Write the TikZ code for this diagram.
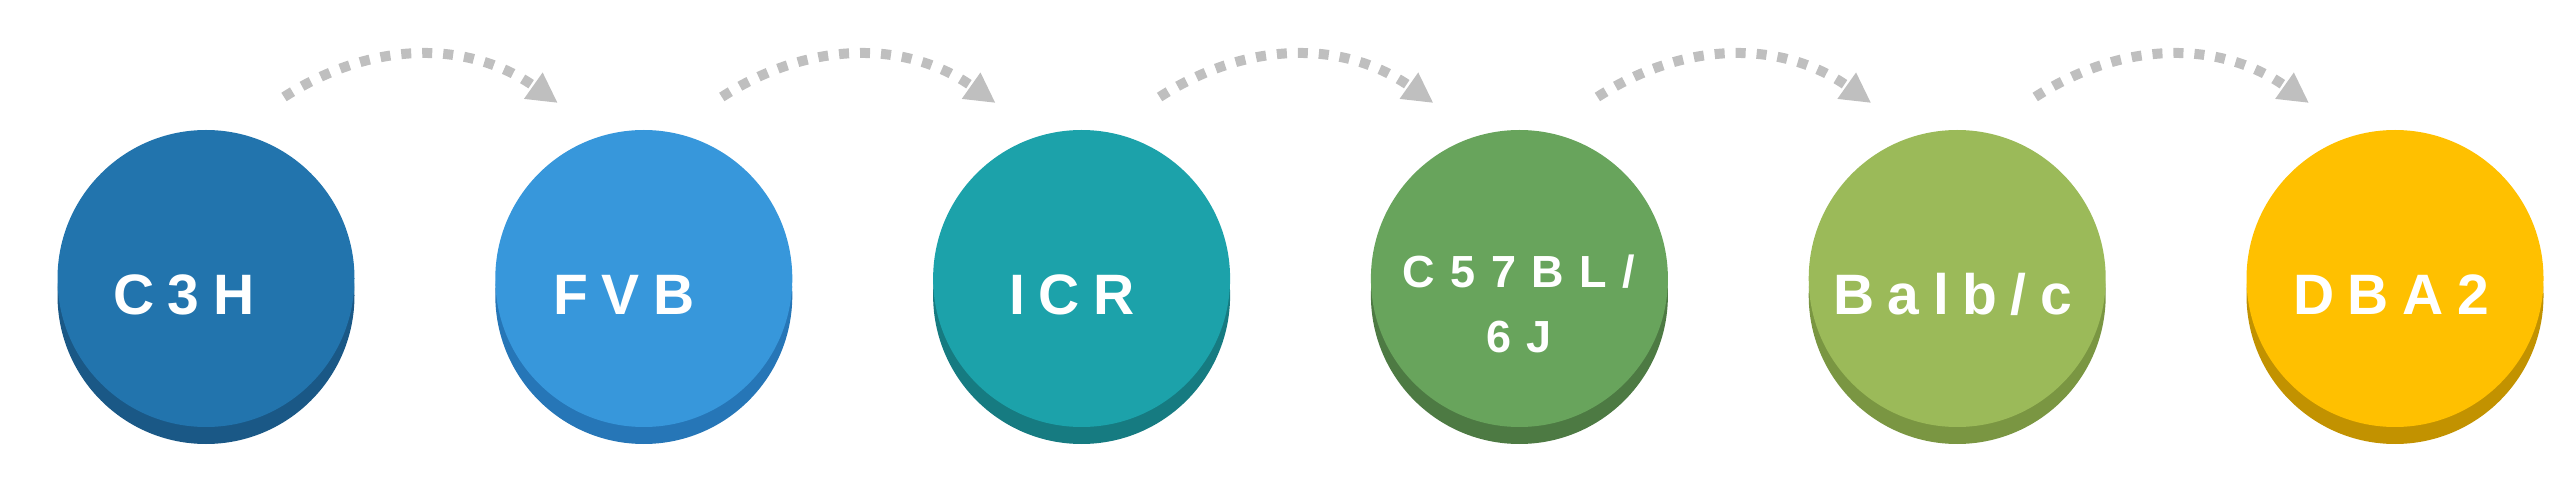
\documentclass[tikz,border=0pt]{standalone}
\usepackage{fontspec}
\setmainfont{Liberation Sans}
\usetikzlibrary{arrows.meta,calc,shadows}
\newcommand\lsp{\kern 13.5pt\relax}
\newcommand\lspb{\kern 15.5pt\relax}
\definecolor{f1}{HTML}{2274AD}\definecolor{s1}{HTML}{1A5886}
\definecolor{f2}{HTML}{3797DB}\definecolor{s2}{HTML}{2676B7}
\definecolor{f3}{HTML}{1CA2AA}\definecolor{s3}{HTML}{167B81}
\definecolor{f4}{HTML}{68A45C}\definecolor{s4}{HTML}{4D7A43}
\definecolor{f5}{HTML}{9BBA59}\definecolor{s5}{HTML}{7A9642}
\definecolor{f6}{HTML}{FFC000}\definecolor{s6}{HTML}{C29200}
\definecolor{arrowgray}{HTML}{BFBFBF}
\begin{document}
\begin{tikzpicture}[x=1pt,y=1pt,
  disc/.style n args={2}{circle, minimum size=297pt, inner sep=0pt, draw=none, fill=#1,
    general shadow={fill=#2, shadow yshift=-17pt}},
  lab/.style={text=white, inner sep=0pt, anchor=base west,
    font=\fontsize{57}{65}\selectfont\bfseries},
  flow/.style={draw=arrowgray, line width=10pt, dash pattern=on 10pt off 11pt,
    -{Triangle[length=30pt,width=30pt]}}]
\useasboundingbox (0,0) rectangle (2560,501);
% discs
\node[disc={f1}{s1}] (c1) at (206,222.5) {};
\node[disc={f2}{s2}] (c2) at (643.8,222.5) {};
\node[disc={f3}{s3}] (c3) at (1081.6,222.5) {};
\node[disc={f4}{s4}] (c4) at (1519.4,222.5) {};
\node[disc={f5}{s5}] (c5) at (1957.2,222.5) {};
\node[disc={f6}{s6}] (c6) at (2395,222.5) {};
% labels
\node[lab] (t1) at (113,186) {C\lsp 3\lsp H};
\node[lab] (t2) at (553,186) {F\lsp V\lsp B};
\node[lab] (t3) at (1009,186) {I\lsp C\lsp R};
\node[lab, anchor=base, align=center, font=\fontsize{45}{65}\selectfont\bfseries]
  (t4) at (1519,148) {C\lspb 5\lspb 7\lspb B\lspb L\lspb /\\6\lspb J};
\node[lab] (t5) at (1833,186) {B\lsp a\lsp l\lsp b\lsp /\lsp c};
\node[lab] (t6) at (2293,186) {D\lsp B\lsp A\lsp 2};
% connectors
\foreach \i/\j in {1/2,2/3,3/4,4/5,5/6}{
  \coordinate (a\i s) at ($(c\i.center)+(78,181.5)$);
  \coordinate (a\i e) at ($(c\j.center)+(-86,175.5)$);
  \draw[flow] (a\i s) to[bend left=34] (a\i e);
}
\end{tikzpicture}
\end{document}
